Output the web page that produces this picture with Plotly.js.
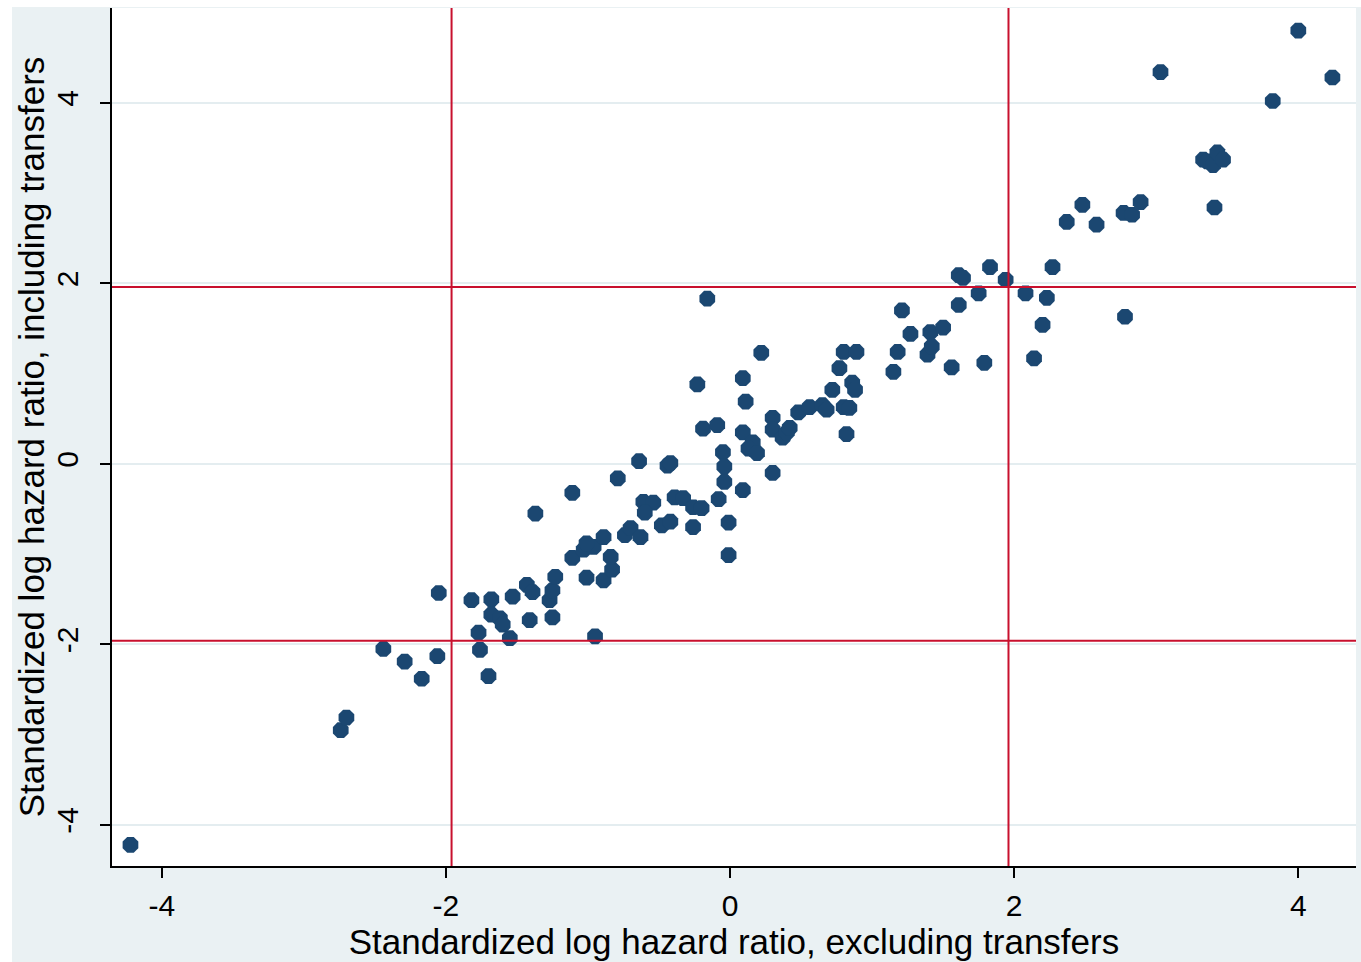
<!DOCTYPE html>
<html>
<head>
<meta charset="utf-8">
<script src="https://cdn.plot.ly/plotly-3.0.1.min.js"></script>
<style>
html,body{margin:0;padding:0;background:#ffffff;}
#chart{position:absolute;left:12px;top:7px;width:1349px;height:955px;}
</style>
</head>
<body>
<div id="chart"></div>
<script>
// Standardized log hazard ratio, excluding transfers (x) vs including transfers (y)
const xExcl = [
  -4.22,-2.74,-2.70,-2.44,-2.29,-2.17,-2.06,-2.05,-1.82,-1.77,
  -1.76,-1.70,-1.68,-1.68,-1.62,-1.60,-1.55,-1.53,-1.43,-1.39,
  -1.41,-1.27,-1.25,-1.25,-1.23,-1.37,-1.11,-1.11,-1.03,-0.96,
  -0.89,-1.01,-0.89,-0.83,-0.84,-0.95,-0.79,-0.74,-0.70,-0.63,
  -0.64,-0.61,-0.54,-0.60,-0.48,-0.42,-0.44,-0.42,-0.39,-0.33,
  -0.26,-0.20,-0.26,-0.16,-0.23,-0.19,-0.09,-0.08,-0.05,-0.04,
  -0.04,-0.01,-0.01,0.09,0.09,0.11,0.09,0.16,0.13,0.19,
  0.22,0.30,0.30,0.30,0.37,0.40,0.42,0.48,0.56,0.65,
  0.68,0.72,0.77,0.80,0.89,0.86,0.88,0.80,0.84,0.82,
  1.15,1.18,1.21,1.27,1.39,1.42,1.41,1.50,1.56,1.61,
  1.61,1.64,1.75,1.79,1.83,1.94,2.08,2.14,2.20,2.23,
  2.27,2.37,2.48,2.58,2.77,2.78,2.83,2.89,3.03,3.33,
  3.36,3.40,3.43,3.47,3.41,3.82,4.00,4.24,-1.01
];
const yIncl = [
  -4.22,-2.95,-2.81,-2.05,-2.19,-2.38,-2.13,-1.43,-1.51,-1.87,
  -2.06,-2.35,-1.50,-1.67,-1.71,-1.78,-1.93,-1.47,-1.34,-1.42,
  -1.73,-1.51,-1.70,-1.40,-1.25,-0.55,-0.32,-1.04,-0.95,-0.92,
  -0.81,-1.26,-1.29,-1.17,-1.03,-1.91,-0.16,-0.79,-0.71,-0.81,
  0.03,-0.42,-0.43,-0.54,-0.68,-0.64,-0.02,0.01,-0.37,-0.38,
  -0.48,-0.49,-0.70,1.83,0.88,0.39,0.43,-0.39,0.13,-0.03,
  -0.20,-0.65,-1.01,-0.29,0.95,0.69,0.35,0.24,0.17,0.12,
  1.23,-0.10,0.51,0.38,0.29,0.35,0.40,0.57,0.63,0.65,
  0.60,0.82,1.06,1.24,1.24,0.90,0.82,0.63,0.62,0.33,
  1.02,1.24,1.70,1.44,1.21,1.30,1.46,1.51,1.07,1.76,
  2.09,2.06,1.89,1.12,2.18,2.04,1.89,1.17,1.54,1.84,
  2.18,2.68,2.87,2.65,2.78,1.63,2.76,2.90,4.34,3.37,
  3.35,3.31,3.45,3.37,2.84,4.02,4.80,4.28,-0.88
];
const tickVals = [-4, -2, 0, 2, 4];
const tickText = ["-4", "-2", "0", "2", "4"];
const critical = [-1.96, 1.96];
const xTitle = "Standardized log hazard ratio, excluding transfers";
const yTitle = "Standardized log hazard ratio, including transfers";

const FONT = "'Liberation Sans Narrow', 'Liberation Sans', Arial, sans-serif";
const redLine = {color: '#c8102e', width: 2};

const shapes = [];
critical.forEach(v => {
  shapes.push({type:'line', xref:'x', yref:'paper', x0:v, x1:v, y0:0, y1:1, line:redLine, layer:'above'});
  shapes.push({type:'line', xref:'paper', yref:'y', x0:0, x1:1, y0:v, y1:v, line:redLine, layer:'above'});
});

const trace = {
  type: 'scatter', mode: 'markers',
  x: xExcl, y: yIncl,
  marker: {symbol: 'octagon', size: 17, color: '#1b4771', line: {width: 0}},
  hoverinfo: 'x+y'
};

const layout = {
  width: 1349, height: 955,
  margin: {l: 100, r: 5, t: 1, b: 96},
  paper_bgcolor: '#eaf1f3',
  plot_bgcolor: '#ffffff',
  showlegend: false,
  font: {family: FONT, color: '#000000', size: 30},
  xaxis: {
    range: [-4.35, 4.406],
    tickvals: tickVals, ticktext: tickText,
    showgrid: false, zeroline: false,
    showline: true, linecolor: '#000000', linewidth: 2,
    ticks: 'outside', ticklen: 10, tickwidth: 2, tickcolor: '#000000',
    tickfont: {family: FONT, size: 30, color: '#000000'},
    ticklabelstandoff: 2,
    title: {text: xTitle, font: {family: FONT, size: 35, color: '#000000'}, standoff: 2}
  },
  yaxis: {
    range: [-4.454, 5.05],
    tickvals: tickVals, ticktext: tickText,
    tickangle: -90,
    showgrid: true, gridcolor: '#e4edf0', gridwidth: 2,
    zeroline: false,
    showline: true, linecolor: '#000000', linewidth: 2,
    ticks: 'outside', ticklen: 10, tickwidth: 2, tickcolor: '#000000',
    tickfont: {family: FONT, size: 30, color: '#000000'},
    ticklabelstandoff: 10,
    title: {text: yTitle, font: {family: FONT, size: 35, color: '#000000'}, standoff: 2}
  },
  shapes: shapes
};

Plotly.newPlot('chart', [trace], layout, {displayModeBar: false, staticPlot: true});
</script>
</body>
</html>
